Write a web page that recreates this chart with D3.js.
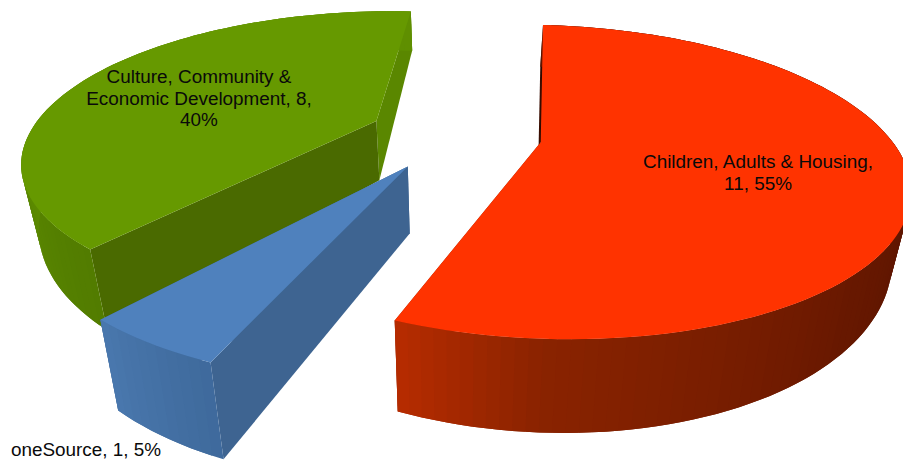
<!DOCTYPE html>
<html>
<head>
<meta charset="utf-8">
<script src="https://cdnjs.cloudflare.com/ajax/libs/d3/7.8.5/d3.min.js"></script>
<style>
  html, body { margin: 0; padding: 0; background: #fff; }
  svg { display: block; }
  text { font-family: "Liberation Sans", Arial, sans-serif; font-size: 18.9px; fill: #0a0a0a; }
</style>
</head>
<body>
<svg id="chart" width="903" height="461"></svg>
<script>
const categories = ["Children, Adults & Housing", "oneSource", "Culture, Community & Economic Development"];
const values = [11, 1, 8];
const percents = ["55%", "5%", "40%"];

const width = 903, height = 461;

// camera for the tilted pie
const cx = 455, cy = 134, focal = 347, squash = 143, depth = 64;
const persp = 0.25, persp2 = 0.04, depthGrow = 0.25;
const explode = 0.25;
const rotation = 4 * Math.PI / 180;

function project(x, y, z) {
  const d = 1 - persp * y + persp2 * z;
  return [cx + focal * x / d, cy + (squash * y + depth * z * (1 + depthGrow * y)) / d];
}

const svg = d3.select("#chart");

const slices = d3.pie().sort(null).startAngle(rotation).endAngle(2 * Math.PI + rotation)(values);

// colours: top face, wall shade along the arc, cut faces
const styles = [
  { top: "#ff3300", wall: d3.scaleLinear().domain([1.9, 2.4, 2.9, 3.2, 3.53]).range(["#5c1500", "#681800", "#7d1f00", "#8a2300", "#b82c00"]).clamp(true), start: "#3a0d00", end: "#8a2000", edge: "#2a0a00" },
  { top: "#4f81bd", wall: d3.scaleLinear().domain([3.53, 3.85]).range(["#3f6a9c", "#4a78ae"]).clamp(true), start: "#3e6491", end: "#3e6491" },
  { top: "#669900", wall: d3.scaleLinear().domain([3.85, 4.7]).range(["#527c00", "#5f8f00"]).clamp(true), start: "#4a6a00", end: "#5a8700" }
];
const drawOrder = [2, 1, 0];

const line = d3.line();

function rimPoints(s, z) {
  const mid = (s.startAngle + s.endAngle) / 2;
  const ex = explode * Math.sin(mid), ey = -explode * Math.cos(mid);
  const steps = Math.ceil((s.endAngle - s.startAngle) / 0.03);
  return d3.range(steps + 1).map(i => {
    const a = s.startAngle + (s.endAngle - s.startAngle) * i / steps;
    return project(ex + Math.sin(a), ey - Math.cos(a), z);
  });
}

function apex(s, z) {
  const mid = (s.startAngle + s.endAngle) / 2;
  return project(explode * Math.sin(mid), -explode * Math.cos(mid), z);
}

drawOrder.forEach(i => {
  const s = slices[i], st = styles[i];
  const g = svg.append("g").attr("class", "slice");
  const top = rimPoints(s, 0), bottom = rimPoints(s, 1);
  const n = top.length - 1;

  // cut face on the end edge, then on the start edge
  [[n, st.end], [0, st.start]].forEach(([k, col]) => {
    g.append("path")
      .attr("d", line([apex(s, 0), top[k], bottom[k], apex(s, 1)]) + "Z")
      .attr("fill", col);
  });

  // thin dark sliver of the hidden face, red slice only
  if (st.edge) {
    g.append("path")
      .attr("d", line([apex(s, 0), d3.interpolate(apex(s, 0), top[0])(0.7)]))
      .attr("stroke", st.edge).attr("stroke-width", 1.6).attr("fill", "none");
  }

  // outer wall in narrow strips, each one runs under the next so no seams show
  d3.range(n).forEach(k => {
    const a = s.startAngle + (s.endAngle - s.startAngle) * (k + 0.5) / n;
    const next = Math.min(k + 2, n);
    g.append("path")
      .attr("d", line([top[k], top[k + 1], top[next], bottom[next], bottom[k + 1], bottom[k]]) + "Z")
      .attr("fill", st.wall(a));
  });

  g.append("path")
    .attr("d", line([apex(s, 0)].concat(top)) + "Z")
    .attr("fill", st.top);
});

// data labels
const labelLines = [
  { lines: ["Children, Adults & Housing,", values[0] + ", " + percents[0]], x: 758, y: 168, gap: 22 },
  { lines: ["oneSource, " + values[1] + ", " + percents[1]], x: 86, y: 456, gap: 0 },
  { lines: ["Culture, Community &", "Economic Development, " + values[2] + ",", percents[2]], x: 199, y: 83, gap: 21.7 }
];
labelLines.forEach(l => {
  l.lines.forEach((t, j) => {
    svg.append("text")
      .attr("x", l.x).attr("y", l.y + j * l.gap)
      .attr("text-anchor", "middle")
      .text(t);
  });
});
</script>
</body>
</html>
